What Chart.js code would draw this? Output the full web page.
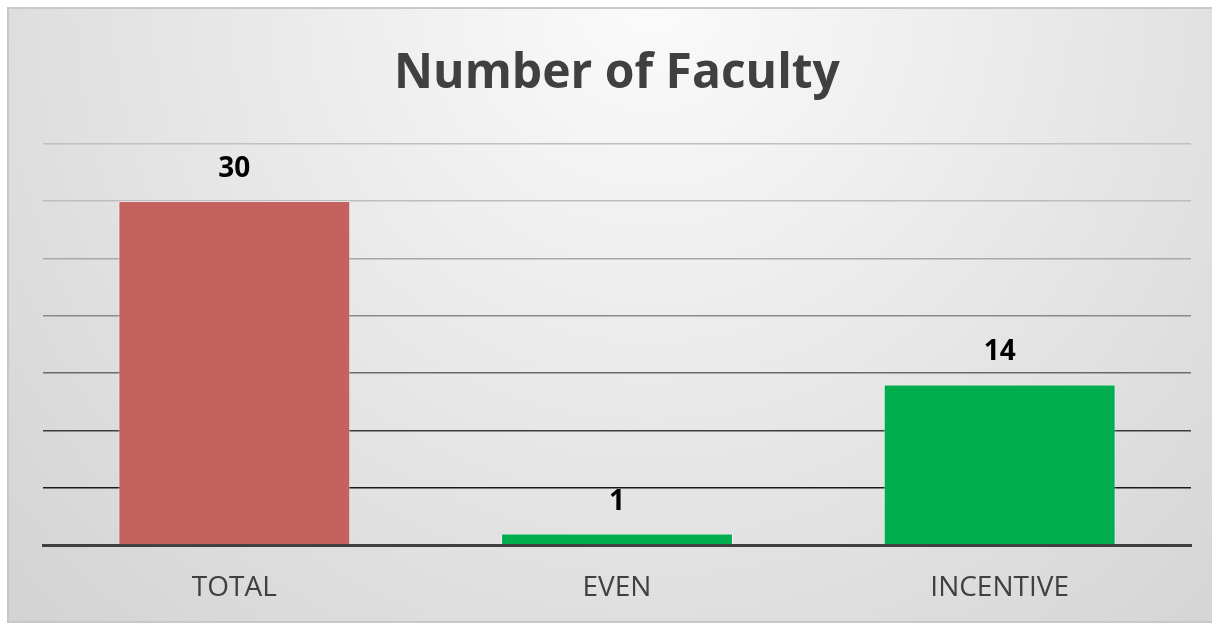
<!DOCTYPE html>
<html>
<head>
<meta charset="utf-8">
<script src="https://cdn.jsdelivr.net/npm/chart.js@4"></script>
<style>
  html, body { margin: 0; padding: 0; background: #ffffff; }
  #wrap { width: 1212px; height: 624px; }
</style>
</head>
<body>
<div id="wrap"><canvas id="faculty" width="1212" height="624"></canvas></div>
<script>
const categories = ['TOTAL', 'EVEN', 'INCENTIVE'];
const counts = [30, 1, 14];
const barColors = ['#c4625f', '#00ae50', '#00ae50'];
// gridline shades from 5 up to 35, Excel style fade
const gridShades = ['#1a1a1a', '#3c3c3c', '#6a6a6a', '#8a8a8a', '#a8a8a8', '#bdbdbd', '#c0c0c0'];

const ctx = document.getElementById('faculty').getContext('2d');

// background panel with soft radial shading and thin frame
const panelBg = {
    id: 'panelBg',
    beforeDraw(chart) {
        const c = chart.ctx;
        c.save();
        const g = c.createRadialGradient(650, 0, 0, 650, 0, 950);
        g.addColorStop(0, '#fbfbfb');
        g.addColorStop(1, '#d0d0d0');
        c.fillStyle = g;
        c.fillRect(9, 9, 1204, 612);
        c.strokeStyle = '#c8c8c8';
        c.lineWidth = 2;
        c.strokeRect(8, 8, 1210, 614);
        c.restore();
    }
};

// value labels above each bar
const valueLabels = {
    id: 'valueLabels',
    afterDatasetsDraw(chart) {
        const c = chart.ctx;
        const meta = chart.getDatasetMeta(0);
        c.save();
        c.font = 'bold 28px "Open Sans"';
        c.fillStyle = '#000000';
        c.textAlign = 'center';
        c.textBaseline = 'middle';
        meta.data.forEach((bar, i) => {
            c.fillText(String(counts[i]), bar.x, bar.y - 32);
        });
        c.restore();
    }
};

new Chart(ctx, {
    type: 'bar',
    data: {
        labels: categories,
        datasets: [{
            data: counts,
            backgroundColor: barColors,
            borderColor: 'rgba(255,255,255,0.45)',
            borderWidth: 1,
            borderSkipped: 'bottom',
            categoryPercentage: 1,
            barPercentage: 0.606
        }]
    },
    options: {
        responsive: false,
        animation: false,
        layout: { padding: { left: 43, right: 21, top: 0, bottom: 0 } },
        plugins: {
            legend: { display: false },
            tooltip: { enabled: false },
            title: {
                display: true,
                text: 'Number of Faculty',
                color: '#404040',
                font: { family: '"Open Sans"', size: 48, weight: 'bold' },
                padding: { top: 46, bottom: 40 }
            }
        },
        scales: {
            x: {
                grid: { display: false, drawTicks: false },
                border: { display: true, color: '#404040', width: 3 },
                ticks: {
                    color: '#404040',
                    font: { family: '"Open Sans"', size: 28 },
                    padding: 26
                },
                afterFit(axis) { axis.height = 79; }
            },
            y: {
                min: 0,
                max: 35,
                ticks: { display: false, stepSize: 5 },
                border: { display: false },
                grid: {
                    drawTicks: false,
                    lineWidth: 1.5,
                    color: (c) => c.index === 0 ? 'rgba(0,0,0,0)' : gridShades[c.index - 1]
                },
                afterFit(axis) { axis.width = 0; }
            }
        }
    },
    plugins: [panelBg, valueLabels]
});
</script>
</body>
</html>
